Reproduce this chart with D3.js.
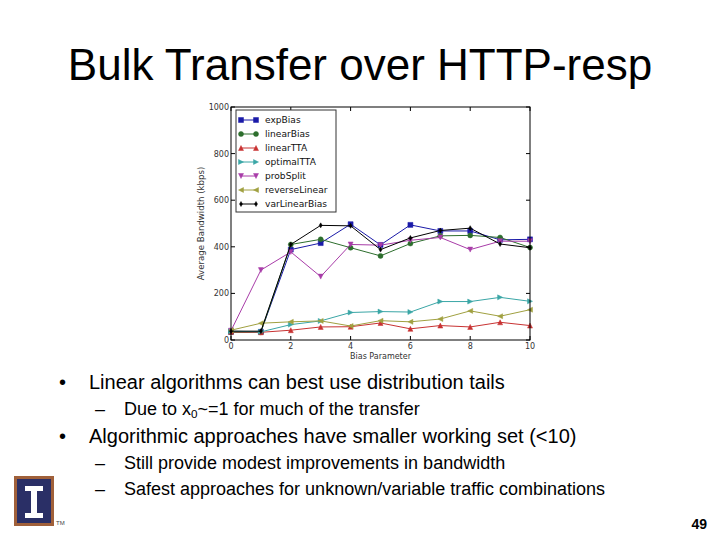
<!DOCTYPE html>
<html><head><meta charset="utf-8">
<script src="https://cdn.jsdelivr.net/npm/d3@7"></script>
<style>body{margin:0;background:#fff}svg{display:block}text{font-family:"Liberation Sans",Arial,sans-serif}.mpl{font-family:"DejaVu Sans",sans-serif}</style>
</head><body><svg id="c" width="720" height="540"></svg>
<script>
const biasParams = [0,1,2,3,4,5,6,7,8,9,10];
const expBias       = [35,35,388,416,497,408,494,468,468,430,432];
const linearBias    = [33,33,410,432,396,361,414,447,449,440,397];
const linearTTA     = [35,33,42,56,57,73,48,62,56,76,62];
const optimalTTA    = [38,35,66,82,118,122,120,165,165,183,166];
const probSplit     = [40,300,378,272,410,407,428,440,388,424,424];
const reverseLinear = [42,72,78,82,60,83,78,90,125,102,130];
const varLinearBias = [38,38,410,492,490,388,438,470,480,412,396];
const seriesNames = ["expBias","linearBias","linearTTA","optimalTTA","probSplit","reverseLinear","varLinearBias"];
const seriesValues = [expBias,linearBias,linearTTA,optimalTTA,probSplit,reverseLinear,varLinearBias];
const seriesColors = ["#1a1aa8","#2d6e2d","#c83232","#3aa6a6","#a83ca8","#a0a040","#000000"];
const seriesMarkers = ["square","circle","triUp","triRight","triDown","triLeft","diamond"];
const yTicks = [0,200,400,600,800,1000];
const xTicks = [0,2,4,6,8,10];

const svg = d3.select("#c");
// Title
svg.append("text").attr("x",360).attr("y",80).attr("text-anchor","middle")
  .attr("font-size",44).attr("fill","#000").text("Bulk Transfer over HTTP-resp");

// Chart
const L=231,R=530,T=107,B=340;
const x = d3.scaleLinear().domain([0,10]).range([L,R]);
const y = d3.scaleLinear().domain([0,1000]).range([B,T]);
const g = svg.append("g");

function markerPath(type, s){
  const h=s/2;
  switch(type){
    case "square": return `M${-h},${-h}H${h}V${h}H${-h}Z`;
    case "triUp": return `M0,${-h}L${h},${h}L${-h},${h}Z`;
    case "triDown": return `M0,${h}L${h},${-h}L${-h},${-h}Z`;
    case "triRight": return `M${h},0L${-h},${h}L${-h},${-h}Z`;
    case "triLeft": return `M${-h},0L${h},${h}L${h},${-h}Z`;
    case "diamond": return `M0,${-h}L${h*0.6},0L0,${h}L${-h*0.6},0Z`;
    default: return null;
  }
}
function drawMarker(sel, type, color, s){
  if(type==="circle"){
    sel.append("circle").attr("r",s/2).attr("fill",color).attr("stroke",color).attr("stroke-width",0.5);
  } else {
    sel.append("path").attr("d",markerPath(type,s)).attr("fill",color).attr("stroke",color).attr("stroke-width",0.5);
  }
}

const line = d3.line().x((d,i)=>x(biasParams[i])).y(d=>y(d));
seriesValues.forEach((vals,k)=>{
  g.append("path").datum(vals).attr("d",line).attr("fill","none")
    .attr("stroke",seriesColors[k]).attr("stroke-width",1);
  vals.forEach((v,i)=>{
    const m = g.append("g").attr("transform",`translate(${x(biasParams[i])},${y(v)})`);
    drawMarker(m, seriesMarkers[k], seriesColors[k], 5);
  });
});

// frame
g.append("rect").attr("x",L).attr("y",T).attr("width",R-L).attr("height",B-T)
  .attr("fill","none").attr("stroke","#000").attr("stroke-width",1);
// ticks inward
yTicks.forEach(t=>{
  g.append("line").attr("x1",L).attr("x2",L+4).attr("y1",y(t)).attr("y2",y(t)).attr("stroke","#000");
  g.append("line").attr("x1",R).attr("x2",R-4).attr("y1",y(t)).attr("y2",y(t)).attr("stroke","#000");
  g.append("text").attr("class","mpl").attr("x",L-2).attr("y",y(t)+3).attr("text-anchor","end").attr("font-size",8)
    .attr("fill","#333").text(t);
});
xTicks.forEach(t=>{
  g.append("line").attr("y1",B).attr("y2",B-4).attr("x1",x(t)).attr("x2",x(t)).attr("stroke","#000");
  g.append("line").attr("y1",T).attr("y2",T+4).attr("x1",x(t)).attr("x2",x(t)).attr("stroke","#000");
  g.append("text").attr("class","mpl").attr("x",x(t)).attr("y",B+9).attr("text-anchor","middle").attr("font-size",8)
    .attr("fill","#333").text(t);
});
g.append("text").attr("class","mpl").attr("x",(L+R)/2).attr("y",B+19).attr("text-anchor","middle").attr("font-size",8)
  .attr("fill","#333").text("Bias Parameter");
g.append("text").attr("class","mpl").attr("transform",`translate(${L-27},${(T+B)/2}) rotate(-90)`).attr("text-anchor","middle")
  .attr("font-size",8.6).attr("fill","#333").text("Average Bandwidth (kbps)");

// legend
const lg = g.append("g").attr("transform",`translate(${L+5},${T+3})`);
lg.append("rect").attr("x",0).attr("y",0).attr("width",100).attr("height",102)
  .attr("fill","#fff").attr("stroke","#333").attr("stroke-width",1);
seriesNames.forEach((n,k)=>{
  const yy = 10 + k*14;
  lg.append("line").attr("x1",5).attr("x2",20).attr("y1",yy).attr("y2",yy).attr("stroke",seriesColors[k]);
  [5,20].forEach(xx=>{
    const m = lg.append("g").attr("transform",`translate(${xx},${yy})`);
    drawMarker(m, seriesMarkers[k], seriesColors[k], 5);
  });
  lg.append("text").attr("class","mpl").attr("x",29).attr("y",yy+3.3).attr("font-size",9.1).attr("fill","#111").text(n);
});

// bullets
const bullets = [
  {lvl:1, y:389, parts:[["Linear algorithms can best use distribution tails"]]},
  {lvl:2, y:415, parts:[["Due to x"],["0","sub"],["~=1 for much of the transfer"]]},
  {lvl:1, y:443, parts:[["Algorithmic approaches have smaller working set (<10)"]]},
  {lvl:2, y:469, parts:[["Still provide modest improvements in bandwidth"]]},
  {lvl:2, y:495, parts:[["Safest approaches for unknown/variable traffic combinations"]]}
];
bullets.forEach(b=>{
  const fs = b.lvl===1?20:18;
  svg.append("text").attr("x",b.lvl===1?59:95).attr("y",b.y).attr("font-size",fs).attr("fill","#000")
    .text(b.lvl===1?"•":"–");
  const t = svg.append("text").attr("x",b.lvl===1?89:124).attr("y",b.y).attr("font-size",fs).attr("fill","#000");
  b.parts.forEach(p=>{
    const ts=t.append("tspan").text(p[0]);
    if(p[1]==="sub"){ ts.attr("font-size",fs*0.65).attr("dy",3); }
    else if(t.selectAll("tspan").size()>1){ ts.attr("dy",-3); }
  });
});
// page number
svg.append("text").attr("x",707).attr("y",529).attr("text-anchor","end").attr("font-size",14)
  .attr("font-weight","bold").text("49");

// logo
const lo = svg.append("g");
lo.append("rect").attr("x",14).attr("y",476).attr("width",40).attr("height",50).attr("fill","#a0603a");
lo.append("rect").attr("x",17).attr("y",479).attr("width",34).attr("height",44).attr("fill","#2a2f66");
lo.append("path").attr("d","M25,486H43V491H37V513H43V518H25V513H31V491H25Z").attr("fill","#fff");
lo.append("text").attr("x",56).attr("y",525).attr("font-size",6).attr("fill","#444").text("TM");
</script></body></html>
